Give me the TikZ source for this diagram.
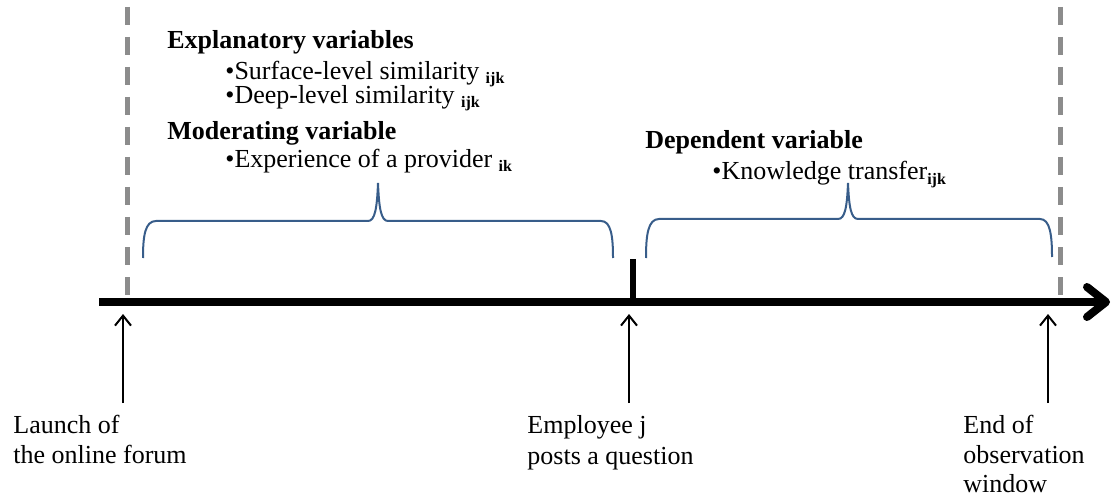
\documentclass[tikz,border=0pt]{standalone}
\usepackage{fontspec}
\setmainfont{Liberation Serif}
\usetikzlibrary{arrows.meta}
\definecolor{bracecol}{RGB}{56,93,138}
\definecolor{dashcol}{RGB}{140,140,140}
\newcommand\subs[1]{\raisebox{-2pt}{\fontsize{8}{8}\selectfont\bfseries #1}}
\begin{document}
\begin{tikzpicture}[x=0.5pt,y=-0.5pt,
  txt/.style={anchor=base west,inner sep=0pt,font=\fontsize{13}{15}\selectfont},
  hd/.style={anchor=base west,inner sep=0pt,font=\fontsize{13}{15}\selectfont\bfseries},
  brace/.style={draw=bracecol,line width=1pt},
  dashline/.style={draw=dashcol,line width=2.5pt,dash pattern=on 9pt off 6pt},
  uparrow/.style={draw=black,line width=1pt,-{Straight Barb[length=5pt,width=8pt]}},
  axis/.style={draw=black,line width=4pt}]
\useasboundingbox (0,0) rectangle (1112,502);

% dashed boundaries
\coordinate (dlt) at (127,7);
\coordinate (dlb) at (127,298);
\coordinate (drt) at (1060,7);
\coordinate (drb) at (1060,298);
\draw[dashline] (dlt) -- (dlb);
\draw[dashline] (drt) -- (drb);

% timeline
\coordinate (tl) at (99,302);
\coordinate (tr) at (1104,302);
\draw[axis] (tl) -- (tr);
\draw[axis,line join=round,line cap=round] (1087,287) -- (1106,302) -- (1087,317);

% tick at question
\coordinate (tickb) at (633,302);
\coordinate (tickt) at (633,259);
\draw[draw=black,line width=3pt] (tickb) -- (tickt);

% braces
\draw[brace] (143,258) .. controls (143,236) and (145,221) .. (156,221) -- (368,221)
  .. controls (375,221) and (377,208) .. (378,183)
  .. controls (379,208) and (381,221) .. (388,221) -- (601,221)
  .. controls (611,221) and (613,236) .. (613,258);
\draw[brace] (646,258) .. controls (646,235) and (648,219) .. (659,219) -- (838,219)
  .. controls (845,219) and (847,207) .. (848,183)
  .. controls (849,207) and (851,219) .. (858,219) -- (1040,219)
  .. controls (1050,219) and (1052,235) .. (1052,257);

% top texts
\node[hd]  (ev)  at (167,49)  {Explanatory variables};
\node[txt] (sls) at (225,80)  {\textbullet Surface-level similarity \subs{ijk}};
\node[txt] (dls) at (225,104) {\textbullet Deep-level similarity \subs{ijk}};
\node[hd]  (mv)  at (167,140) {Moderating variable};
\node[txt] (exp) at (225,168) {\textbullet Experience of a provider \subs{ik}};
\node[hd]  (dv)  at (645,149) {Dependent variable};
\node[txt] (kt)  at (712,180) {\textbullet Knowledge transfer\subs{ijk}};

% bottom labels
\node[txt] (l1a) at (13,433)  {Launch of};
\node[txt] (l1b) at (13,463)  {the online forum};
\node[txt] (l2a) at (527,433) {Employee j};
\node[txt] (l2b) at (527,464) {posts a question};
\node[txt] (l3a) at (963,433) {End of};
\node[txt] (l3b) at (963,463) {observation};
\node[txt] (l3c) at (963,492) {window};

% arrows
\coordinate (a1s) at (123,403); \coordinate (a1e) at (123,314);
\coordinate (a2s) at (629,403); \coordinate (a2e) at (629,314);
\coordinate (a3s) at (1048,403); \coordinate (a3e) at (1048,314);
\draw[uparrow] (a1s) -- (a1e);
\draw[uparrow] (a2s) -- (a2e);
\draw[uparrow] (a3s) -- (a3e);
\end{tikzpicture}
\end{document}
